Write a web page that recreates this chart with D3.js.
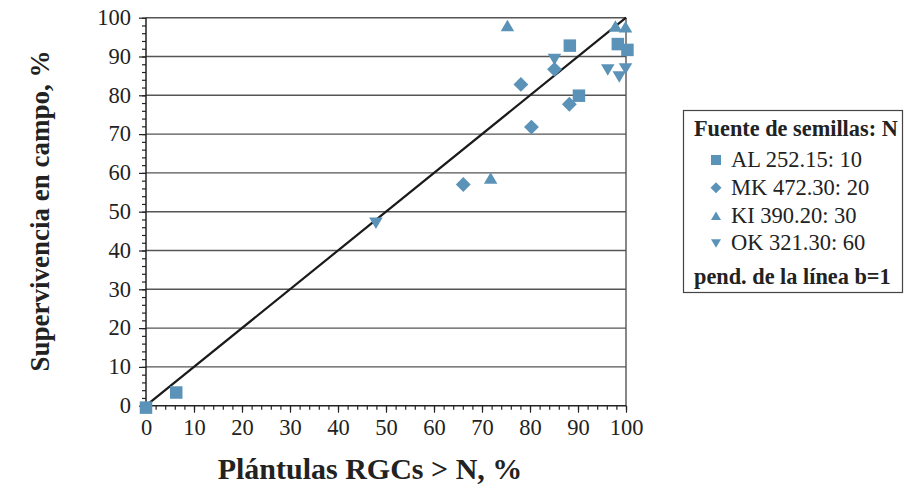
<!DOCTYPE html>
<html><head><meta charset="utf-8">
<script src="https://cdn.jsdelivr.net/npm/d3@7"></script>
<style>
html,body{margin:0;padding:0;background:#fff;}
svg{display:block;font-family:"Liberation Serif","Times New Roman",serif;}
</style></head>
<body><svg id="c" width="905" height="490"></svg>
<script>
// Data (x: Plántulas RGCs > N, %, y: Supervivencia en campo, %)
const seriesNames = ["AL 252.15: 10", "MK 472.30: 20", "KI 390.20: 30", "OK 321.30: 60"];
const seriesShapes = ["square", "diamond", "up", "down"];
const alX = [0, 6.3, 88.3, 98.3, 100.3, 90.2];
const alY = [-0.5, 3.4, 92.8, 93.2, 91.7, 79.9];
const mkX = [85.1, 78.1, 88.2, 80.3, 66.1];
const mkY = [86.7, 82.8, 77.7, 71.8, 57.0];
const kiX = [75.3, 97.8, 99.9, 71.8];
const kiY = [97.9, 97.8, 97.6, 58.6];
const okX = [85.1, 96.2, 98.6, 99.9, 47.9];
const okY = [89.3, 86.6, 84.8, 86.9, 47.1];
const lineX = [0, 100];
const lineY = [0, 100];
const xTicks = [0, 10, 20, 30, 40, 50, 60, 70, 80, 90, 100];
const yTicks = [0, 10, 20, 30, 40, 50, 60, 70, 80, 90, 100];
const legendTitle = "Fuente de semillas: N";
const legendLineLabel = "pend. de la línea b=1";
const xTitle = "Plántulas RGCs > N, %";
const yTitle = "Supervivencia en campo, %";

const series = [
  {name: seriesNames[0], shape: seriesShapes[0], pts: alX.map((x,i)=>[x, alY[i]])},
  {name: seriesNames[1], shape: seriesShapes[1], pts: mkX.map((x,i)=>[x, mkY[i]])},
  {name: seriesNames[2], shape: seriesShapes[2], pts: kiX.map((x,i)=>[x, kiY[i]])},
  {name: seriesNames[3], shape: seriesShapes[3], pts: okX.map((x,i)=>[x, okY[i]])}
];

const color = "#5b93b8";
const FONT = "Liberation Serif";
const svg = d3.select("#c");
const L = 146, R = 626, T = 17.7, B = 405.7;
const x = d3.scaleLinear().domain([0, 100]).range([L, R]);
const y = d3.scaleLinear().domain([0, 100]).range([B, T]);

function shapePath(shape, s) {
  const h = s / 2;
  if (shape === "square") return `M${-h},${-h}H${h}V${h}H${-h}Z`;
  if (shape === "diamond") { const d = h * 1.1; return `M0,${-d}L${d},0L0,${d}L${-d},0Z`; }
  if (shape === "up") return `M0,${-h*0.9}L${h},${h*0.8}L${-h},${h*0.8}Z`;
  if (shape === "down") return `M0,${h*0.9}L${h},${-h*0.8}L${-h},${-h*0.8}Z`;
}

// gridlines
svg.append("g").selectAll("line").data(yTicks.filter(d => d > 0)).join("line")
  .attr("x1", L).attr("x2", R).attr("y1", d => y(d)).attr("y2", d => y(d))
  .attr("stroke", "#555").attr("stroke-width", 1.4);
// right border
svg.append("line").attr("x1", R).attr("x2", R).attr("y1", T).attr("y2", B)
  .attr("stroke", "#555").attr("stroke-width", 1.4);

// minor ticks
const minor = d3.range(0, 101, 2);
const xAxis = d3.axisBottom(x).tickValues(minor).tickSize(4).tickFormat("");
const gx = svg.append("g").attr("transform", `translate(0,${B})`).call(xAxis);
gx.selectAll("line").attr("stroke", "#222").attr("stroke-width", 1.2);
gx.select(".domain").remove();
const xMajor = d3.axisBottom(x).tickValues(xTicks).tickSize(7).tickPadding(4).tickFormat(d3.format("d"));
const gx2 = svg.append("g").attr("transform", `translate(0,${B})`).call(xMajor);
gx2.attr("font-family", FONT);
gx2.select(".domain").remove();
gx2.selectAll("line").attr("stroke", "#222").attr("stroke-width", 1.2);
gx2.selectAll("text").attr("font-size", 22.5).attr("fill", "#222")
  .attr("font-family", FONT).attr("dy", "0.8em");

const yAxis = d3.axisLeft(y).tickValues(minor).tickSize(4).tickFormat("");
const gy = svg.append("g").attr("transform", `translate(${L},0)`).call(yAxis);
gy.selectAll("line").attr("stroke", "#222").attr("stroke-width", 1.2);
gy.select(".domain").remove();
const yMajor = d3.axisLeft(y).tickValues(yTicks).tickSize(7).tickPadding(8).tickFormat(d3.format("d"));
const gy2 = svg.append("g").attr("transform", `translate(${L},0)`).call(yMajor);
gy2.attr("font-family", FONT);
gy2.select(".domain").remove();
gy2.selectAll("line").attr("stroke", "#222").attr("stroke-width", 1.2);
gy2.selectAll("text").attr("font-size", 22.5).attr("fill", "#222")
  .attr("font-family", FONT).attr("dy", "0.3em");

// axis lines
svg.append("line").attr("x1", L).attr("x2", R).attr("y1", B).attr("y2", B)
  .attr("stroke", "#222").attr("stroke-width", 1.5);
svg.append("line").attr("x1", L).attr("x2", L).attr("y1", T).attr("y2", B)
  .attr("stroke", "#222").attr("stroke-width", 1.5);

// 1:1 line
svg.append("path")
  .attr("d", d3.line().x(d => x(d[0])).y(d => y(d[1]))(lineX.map((v,i)=>[v, lineY[i]])))
  .attr("stroke", "#1a1a1a").attr("stroke-width", 2.2).attr("fill", "none");

// markers
series.forEach(s => {
  svg.append("g").selectAll("path").data(s.pts).join("path")
    .attr("transform", d => `translate(${x(d[0])},${y(d[1])})`)
    .attr("d", shapePath(s.shape, s.shape === "square" ? 12.5 : 13.5))
    .attr("fill", color);
});

// axis titles
svg.append("text").attr("x", 370).attr("y", 479).attr("text-anchor", "middle")
  .attr("font-size", 30).attr("font-weight", "bold").attr("fill", "#222").text(xTitle);
svg.append("text").attr("transform", "translate(49,211) rotate(-90)").attr("text-anchor", "middle")
  .attr("font-size", 27).attr("font-weight", "bold").attr("fill", "#222").text(yTitle);

// legend
const lg = svg.append("g");
lg.append("rect").attr("x", 683.5).attr("y", 110.5).attr("width", 219).attr("height", 182)
  .attr("fill", "#fff").attr("stroke", "#444").attr("stroke-width", 1.2);
lg.append("text").attr("x", 694).attr("y", 136).attr("font-size", 22.3).attr("font-weight", "bold")
  .attr("fill", "#222").text(legendTitle);
const rowY = [167, 195, 222.5, 250];
const mkY0 = [160, 187.7, 216, 243.3];
series.forEach((s, i) => {
  lg.append("path").attr("transform", `translate(716,${mkY0[i]})`)
    .attr("d", shapePath(s.shape, 10)).attr("fill", color);
  lg.append("text").attr("x", 731).attr("y", rowY[i]).attr("font-size", 22.5)
    .attr("fill", "#222").text(s.name);
});
lg.append("text").attr("x", 694).attr("y", 284).attr("font-size", 22.3).attr("font-weight", "bold")
  .attr("fill", "#222").text(legendLineLabel);
</script></body></html>
